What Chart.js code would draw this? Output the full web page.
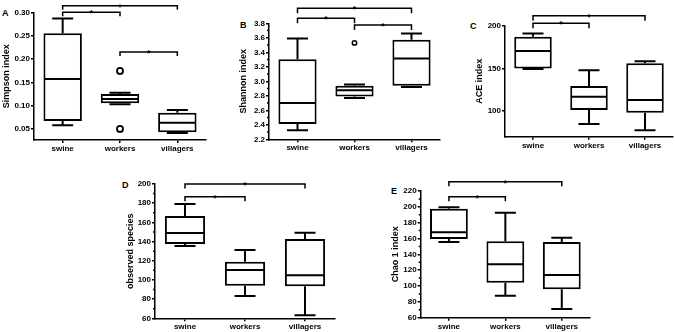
<!DOCTYPE html>
<html>
<head>
<meta charset="utf-8">
<script src="https://cdn.jsdelivr.net/npm/chart.js@4.4.1/dist/chart.umd.min.js"></script>
<style>
  body { margin: 0; background: #fff; width: 675px; height: 332px; position: relative; overflow: hidden; }
  canvas { position: absolute; }
  .tag { position: absolute; font: bold 9px "Liberation Sans", Arial, sans-serif; color: #000; line-height: 10px; }
</style>
</head>
<body>
<div class="tag" style="left:2px;top:8px">A</div>
<div class="tag" style="left:240px;top:20px">B</div>
<div class="tag" style="left:470px;top:21px">C</div>
<div class="tag" style="left:122px;top:180px">D</div>
<div class="tag" style="left:391px;top:186px">E</div>
<canvas id="pA"></canvas>
<canvas id="pB"></canvas>
<canvas id="pC"></canvas>
<canvas id="pD"></canvas>
<canvas id="pE"></canvas>
<script>
const groups = ['swine', 'workers', 'villagers']

// each row: min, q1, median, q3, max
const simpsonBox = [
  [0.0585, 0.0677, 0.1575, 0.255, 0.287],
  [0.1035, 0.1055, 0.1147, 0.1255, 0.128],
  [0.042, 0.0436, 0.0641, 0.0855, 0.0912]
]
const simpsonOutliers = [['workers', 0.1746], ['workers', 0.0506]]
const simpsonTicks = [0.05, 0.10, 0.15, 0.20, 0.25, 0.30]

const shannonBox = [
  [2.325, 2.41, 2.70, 3.303, 3.59],
  [2.77, 2.79, 2.875, 2.94, 2.956],
  [2.92, 2.94, 3.313, 3.572, 3.66]
]
const shannonOutliers = [['workers', 3.53]]
const shannonTicks = [2.2, 2.4, 2.6, 2.8, 3.0, 3.2, 3.4, 3.6, 3.8]

const aceBox = [
  [149.2, 150, 170.3, 187.1, 191],
  [84.8, 101.2, 116.8, 129.3, 147.7],
  [77.7, 98, 112.9, 155.9, 158.5]
]
const aceTicks = [100, 150, 200]

const observedBox = [
  [135.3, 137.4, 148.9, 166.6, 179.1],
  [83.3, 94, 110.3, 119, 131.2],
  [63.2, 93.5, 105, 142.6, 149.2]
]
const observedTicks = [60, 80, 100, 120, 140, 160, 180, 200]

const chaoBox = [
  [155.6, 159.4, 167.9, 197.7, 199.4],
  [87.8, 104.2, 127.4, 156.5, 192.6],
  [71, 95.8, 114, 155.6, 161]
]
const chaoTicks = [60, 80, 100, 120, 140, 160, 180, 200, 220]

// significant pairs (*)
const sigThree = [['swine', 'villagers'], ['swine', 'workers'], ['workers', 'villagers']]
const sigTwo = [['swine', 'villagers'], ['swine', 'workers']]

Chart.defaults.font.family = '"Liberation Sans", Arial, sans-serif'
Chart.defaults.font.weight = 'bold'
Chart.defaults.color = '#000'

// whiskers, medians, brackets, minor ticks
const boxExtras = {
  id: 'boxExtras',
  afterDatasetsDraw(chart, args, p) {
    const { ctx, scales: { x, y } } = chart
    const bars = chart.getDatasetMeta(0).data
    ctx.save()
    ctx.strokeStyle = '#000'
    ctx.lineWidth = 2
    p.box.forEach((b, i) => {
      const cx = x.getPixelForValue(i)
      const hw = bars[i].width / 2
      const [mn, q1, md, q3, mx] = b.map(v => y.getPixelForValue(v))
      ctx.beginPath()
      ctx.moveTo(cx, q3); ctx.lineTo(cx, mx)
      ctx.moveTo(cx, q1); ctx.lineTo(cx, mn)
      ctx.moveTo(cx - 10.5, mx); ctx.lineTo(cx + 10.5, mx)
      ctx.moveTo(cx - 10.5, mn); ctx.lineTo(cx + 10.5, mn)
      ctx.moveTo(cx - hw + 1, md); ctx.lineTo(cx + hw - 1, md)
      ctx.stroke()
    })
    ctx.restore()
  },
  afterDraw(chart, args, p) {
    const { ctx, chartArea, scales: { x, y } } = chart
    ctx.save()
    ctx.strokeStyle = '#000'
    ctx.fillStyle = '#000'
    ctx.lineWidth = 1.5
    if (p.minor) {
      const t = p.ticks
      ctx.beginPath()
      t.slice(1).forEach((v, i) => {
        const py = y.getPixelForValue((v + t[i]) / 2)
        ctx.moveTo(chartArea.left - 2, py); ctx.lineTo(chartArea.left, py)
      })
      ctx.stroke()
    }
    ctx.font = 'bold 9px "Liberation Sans", Arial, sans-serif'
    ctx.textAlign = 'center'
    ctx.textBaseline = 'alphabetic'
    p.sig.forEach((s, k) => {
      const x1 = x.getPixelForValue(groups.indexOf(s[0]))
      const x2 = x.getPixelForValue(groups.indexOf(s[1]))
      const yy = y.getPixelForValue(p.brackets[k])
      ctx.beginPath()
      ctx.moveTo(x1, yy + p.drop); ctx.lineTo(x1, yy); ctx.lineTo(x2, yy); ctx.lineTo(x2, yy + p.drop)
      ctx.stroke()
      ctx.fillText('*', (x1 + x2) / 2, yy + 4)
    })
    ctx.restore()
  }
}

const panels = [
  { id: 'pA', title: 'Simpson index', box: simpsonBox, outliers: simpsonOutliers, ticks: simpsonTicks, sig: sigThree,
    min: 0.027, max: 0.30, digits: 2, minor: false, dot: 3, dotLine: 1.8,
    pos: { x: 0, y: 0, w: 215, h: 165 }, area: { l: 34, r: 206, t: 12.3, b: 140 }, titleX: 6.7,
    brackets: [0.3141, 0.30, 0.2152], drop: 4 },
  { id: 'pB', title: 'Shannon index', box: shannonBox, outliers: shannonOutliers, ticks: shannonTicks, sig: sigThree,
    min: 2.2, max: 3.8, digits: 1, minor: true, dot: 2.2, dotLine: 1.5,
    pos: { x: 222, y: 0, w: 225, h: 165 }, area: { l: 269, r: 440, t: 23.3, b: 139.3 }, titleX: 244,
    brackets: [4.009, 3.87, 3.776], drop: 5 },
  { id: 'pC', title: 'ACE index', box: aceBox, outliers: [], ticks: aceTicks, sig: sigTwo,
    min: 70, max: 200, digits: 0, minor: false, dot: 3, dotLine: 1.8,
    pos: { x: 455, y: 0, w: 220, h: 165 }, area: { l: 505, r: 673, t: 25.7, b: 136.7 }, titleX: 480,
    brackets: [211.7, 202.8], drop: 5 },
  { id: 'pD', title: 'observed species', box: observedBox, outliers: [], ticks: observedTicks, sig: sigTwo,
    min: 60, max: 200, digits: 0, minor: true, dot: 3, dotLine: 1.8,
    pos: { x: 115, y: 165, w: 230, h: 167 }, area: { l: 155, r: 335, t: 184, b: 318.3 }, titleX: 131,
    brackets: [200, 186.8], drop: 4.5 },
  { id: 'pE', title: 'Chao 1 index', box: chaoBox, outliers: [], ticks: chaoTicks, sig: sigTwo,
    min: 60, max: 220, digits: 0, minor: true, dot: 3, dotLine: 1.8,
    pos: { x: 385, y: 165, w: 215, h: 167 }, area: { l: 420.7, r: 590, t: 191, b: 317.7 }, titleX: 396,
    brackets: [231.7, 212.8], drop: 4.5 }
]

const makeChart = (p) => {
  const cv = document.getElementById(p.id)
  cv.width = p.pos.w
  cv.height = p.pos.h
  cv.style.left = p.pos.x + 'px'
  cv.style.top = p.pos.y + 'px'
  const a = p.area

  new Chart(cv, {
    type: 'bar',
    data: {
      labels: groups,
      datasets: [{
        data: p.box.map(b => [b[1], b[3]]),
        backgroundColor: '#fff',
        borderColor: '#000',
        borderWidth: 2,
        borderSkipped: false,
        barPercentage: 0.67,
        categoryPercentage: 1
      }, {
        type: 'line',
        data: p.outliers.map(o => ({ x: o[0], y: o[1] })),
        showLine: false,
        pointRadius: p.dot,
        pointBorderWidth: p.dotLine,
        pointBackgroundColor: '#fff',
        pointBorderColor: '#000'
      }]
    },
    options: {
      responsive: false,
      animation: false,
      events: [],
      layout: { padding: { left: 0, top: a.t - p.pos.y, right: p.pos.x + p.pos.w - a.r, bottom: 0 } },
      plugins: { legend: { display: false }, tooltip: { enabled: false }, boxExtras: p },
      scales: {
        x: {
          grid: { offset: false, drawOnChartArea: false, tickLength: 3, color: '#000', lineWidth: 1.5 },
          border: { color: '#000', width: 1.5 },
          ticks: { padding: 1, font: { size: 8, weight: 'bold' } },
          afterFit: s => { s.height = p.pos.y + p.pos.h - a.b }
        },
        y: {
          min: p.min,
          max: p.max,
          afterBuildTicks: s => { s.ticks = p.ticks.map(v => ({ value: v })) },
          grid: { drawOnChartArea: false, tickLength: 3, color: '#000', lineWidth: 1.5 },
          border: { color: '#000', width: 1.5 },
          ticks: { padding: 1, font: { size: 8, weight: 'bold' }, callback: v => Number(v).toFixed(p.digits) },
          title: { display: true, text: p.title, font: { size: 9, weight: 'bold' }, padding: { top: p.titleX - p.pos.x - 5.4, bottom: 0 } },
          afterFit: s => { s.width = a.l - p.pos.x }
        }
      }
    },
    plugins: [boxExtras]
  })
}

panels.forEach(makeChart)
</script>
</body>
</html>
